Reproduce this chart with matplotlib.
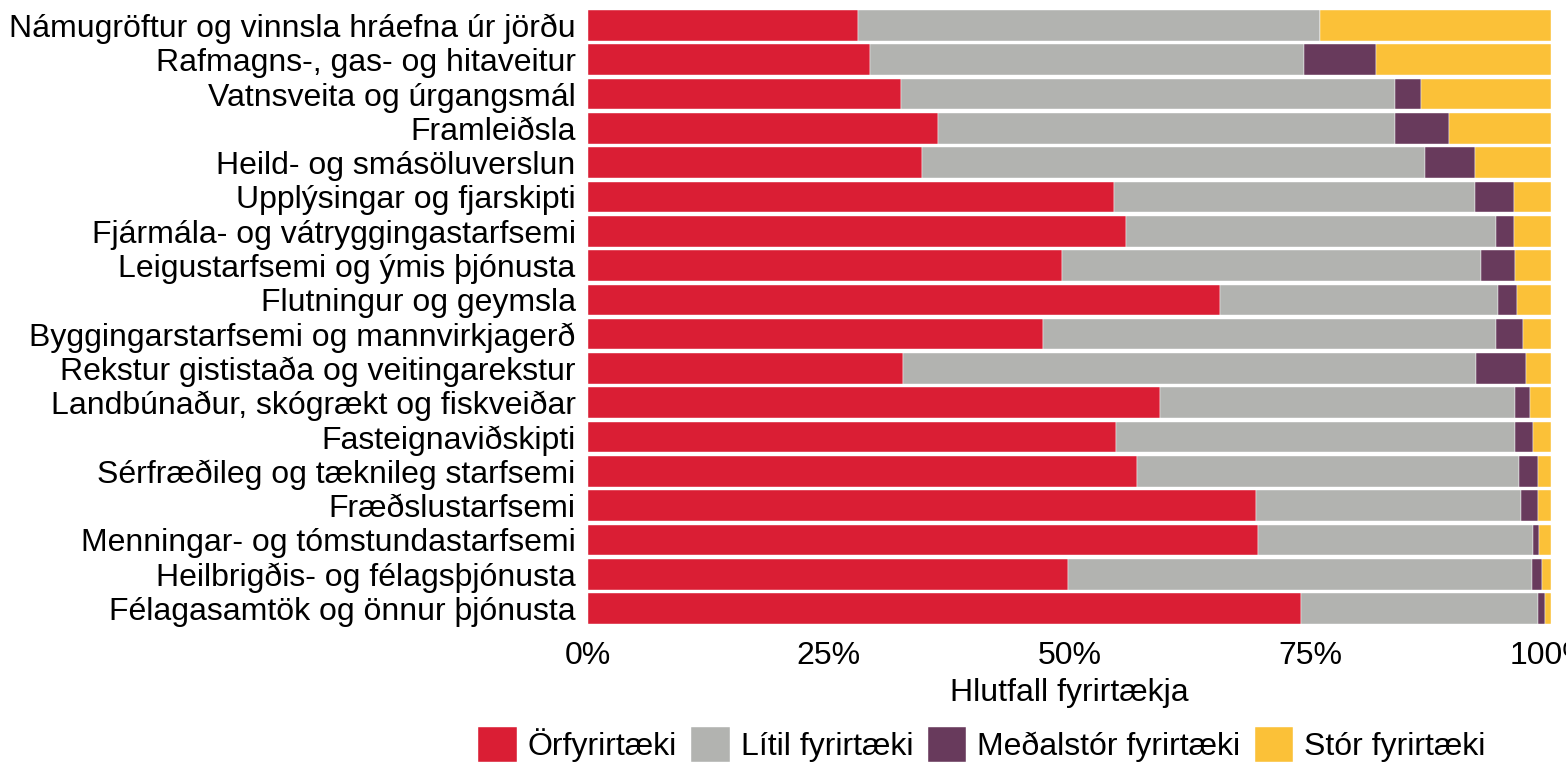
import matplotlib
matplotlib.use("Agg")
import matplotlib.pyplot as plt
from matplotlib.ticker import PercentFormatter

plt.rcParams["font.family"] = ["Liberation Sans", "DejaVu Sans"]

atvinnugreinar = [
    "Námugröftur og vinnsla hráefna úr jörðu",
    "Rafmagns-, gas- og hitaveitur",
    "Vatnsveita og úrgangsmál",
    "Framleiðsla",
    "Heild- og smásöluverslun",
    "Upplýsingar og fjarskipti",
    "Fjármála- og vátryggingastarfsemi",
    "Leigustarfsemi og ýmis þjónusta",
    "Flutningur og geymsla",
    "Byggingarstarfsemi og mannvirkjagerð",
    "Rekstur gististaða og veitingarekstur",
    "Landbúnaður, skógrækt og fiskveiðar",
    "Fasteignaviðskipti",
    "Sérfræðileg og tæknileg starfsemi",
    "Fræðslustarfsemi",
    "Menningar- og tómstundastarfsemi",
    "Heilbrigðis- og félagsþjónusta",
    "Félagasamtök og önnur þjónusta",
]

# hlutföll (%) eftir stærð fyrirtækja
orfyrirtaeki = [28.0, 29.25, 32.5, 36.35, 34.7, 54.65, 55.9, 49.25, 65.65,
                47.25, 32.7, 59.45, 54.8, 57.0, 69.35, 69.6, 49.8, 74.05]
litil = [48.0, 45.15, 51.3, 47.45, 52.2, 37.5, 38.4, 43.5, 28.9,
         47.0, 59.5, 36.85, 41.45, 39.7, 27.5, 28.5, 48.25, 24.6]
medalstor = [0.0, 7.4, 2.7, 5.65, 5.2, 4.0, 1.9, 3.5, 1.95,
             2.85, 5.2, 1.5, 1.9, 2.0, 1.85, 0.7, 1.0, 0.7]
stor = [24.0, 18.2, 13.5, 10.55, 7.9, 3.85, 3.8, 3.75, 3.5,
        2.9, 2.6, 2.2, 1.85, 1.3, 1.3, 1.2, 0.95, 0.65]

flokkar = ["Örfyrirtæki", "Lítil fyrirtæki", "Meðalstór fyrirtæki", "Stór fyrirtæki"]
litir = ["#DA1E34", "#B2B3B0", "#683A5C", "#FBC138"]

fig = plt.figure(figsize=(15.66, 7.68), dpi=100)
ax = fig.add_axes([0.3755, 0.1853, 0.6149, 0.8039])

y = range(len(atvinnugreinar))
left = [0.0] * len(atvinnugreinar)
for nafn, gildi, litur in zip(flokkar, [orfyrirtaeki, litil, medalstor, stor], litir):
    hlutf = [g / 100 for g in gildi]
    ax.barh(y, hlutf, left=left, height=0.89, color=litur, label=nafn,
            edgecolor="white", linewidth=0.3)
    left = [a + b for a, b in zip(left, hlutf)]

ax.set_yticks(list(y), atvinnugreinar)
ax.set_ylim(len(atvinnugreinar) - 0.5, -0.5)
ax.set_xlim(0, 1)
ax.set_xticks([0, 0.25, 0.5, 0.75, 1.0])
ax.xaxis.set_major_formatter(PercentFormatter(1.0, decimals=0))
ax.tick_params(axis="both", length=0, labelsize=23, colors="black")
ax.tick_params(axis="y", pad=9)
ax.tick_params(axis="x", pad=11)
for s in ax.spines.values():
    s.set_visible(False)
ax.set_xlabel("Hlutfall fyrirtækja", fontsize=23, labelpad=5)

fig.legend(loc="lower center", bbox_to_anchor=(0.627, -0.03), ncol=4, frameon=False,
           fontsize=23, handlelength=1.2, handleheight=1.3, handletextpad=0.35,
           columnspacing=0.45)

fig.savefig("out.png", dpi=100)
